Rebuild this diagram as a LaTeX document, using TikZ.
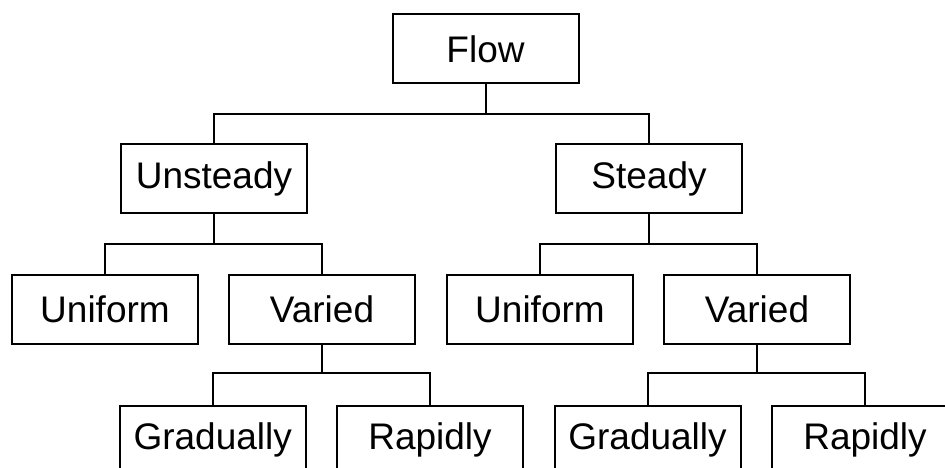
\documentclass[tikz,border=0pt]{standalone}
\usepackage{fontspec}
\setmainfont{Liberation Sans}
\begin{document}
\begin{tikzpicture}[x=1pt,y=1pt,
  box/.style={draw=black,line width=2pt,rectangle,minimum width=186pt,minimum height=69pt,inner sep=0pt,font=\fontsize{37}{40}\selectfont,fill=white},
  link/.style={draw=black,line width=2pt}]
\useasboundingbox (0,0) rectangle (945,-468);
\clip (0,0) rectangle (945,-468);
\node[box] (flow) at (485.5,-48.8) {Flow};
\node[box] (unsteady) at (214,-178.8) {Unsteady};
\node[box] (steady) at (649,-178.8) {Steady};
\node[box] (uniL) at (105,-309) {Uniform};
\node[box] (varL) at (322,-309) {Varied};
\node[box] (uniR) at (540,-309) {Uniform};
\node[box] (varR) at (757,-309) {Varied};
\node[box] (graL) at (212.7,-440.2) {Gradually};
\node[box] (rapL) at (430,-440.2) {Rapidly};
\node[box] (graR) at (647.5,-440.2) {Gradually};
\node[box] (rapR) at (865,-440.2) {Rapidly};
\coordinate (j0) at (485.5,-114.3);
\coordinate (j1) at (214,-244.3);
\coordinate (j2) at (649,-244.3);
\coordinate (j3) at (322,-373.3);
\coordinate (j4) at (757,-373.3);
\draw[link] (flow.south) -- (j0);
\draw[link] (unsteady.north) |- (j0) -| (steady.north);
\draw[link] (unsteady.south) -- (j1);
\draw[link] (uniL.north) |- (j1) -| (varL.north);
\draw[link] (steady.south) -- (j2);
\draw[link] (uniR.north) |- (j2) -| (varR.north);
\draw[link] (varL.south) -- (j3);
\draw[link] (graL.north) |- (j3) -| (rapL.north);
\draw[link] (varR.south) -- (j4);
\draw[link] (graR.north) |- (j4) -| (rapR.north);
\end{tikzpicture}
\end{document}
